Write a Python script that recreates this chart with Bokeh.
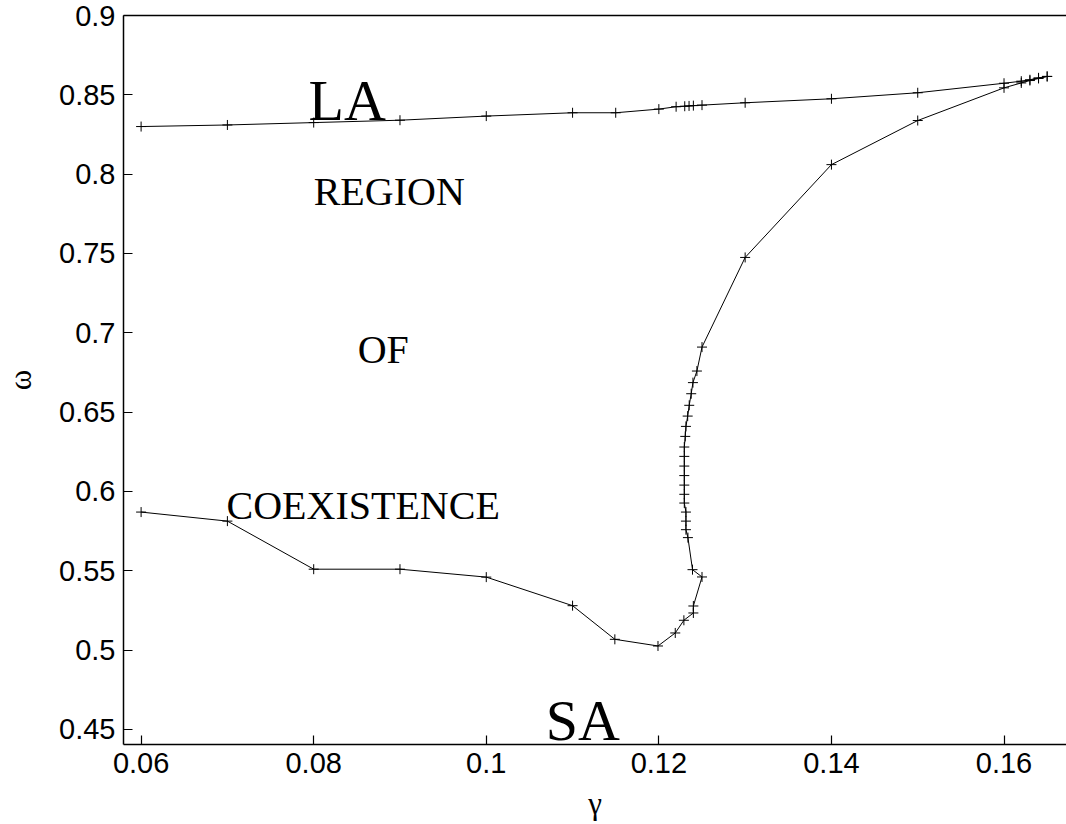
from bokeh.plotting import figure
from bokeh.models import Range1d, LinearAxis, FixedTicker, Label
from bokeh.embed import file_html
from bokeh.resources import INLINE

# Upper branch (LA boundary)
top_gamma = [0.06, 0.07, 0.08, 0.09, 0.10, 0.11, 0.115, 0.12, 0.122, 0.123, 0.1235,
             0.124, 0.125, 0.13, 0.14, 0.15, 0.16, 0.162, 0.163, 0.164, 0.165]
top_omega = [0.830, 0.831, 0.8325, 0.834, 0.8366, 0.8387, 0.8387, 0.841, 0.8425, 0.8428, 0.843,
             0.8432, 0.8435, 0.845, 0.8475, 0.8513, 0.8573, 0.8586, 0.8595, 0.8607, 0.8616]

# Lower branch (SA boundary)
low_gamma = [0.06, 0.07, 0.08, 0.09, 0.10, 0.11, 0.1149, 0.1199, 0.1219, 0.1229, 0.1240,
             0.1240, 0.1250, 0.1239, 0.12337, 0.12314, 0.12314, 0.12314, 0.12295, 0.12295,
             0.12295, 0.12295, 0.12295, 0.12295, 0.12295, 0.12306, 0.12314, 0.12334,
             0.12352, 0.12375, 0.12395, 0.12441, 0.1250, 0.13, 0.14, 0.15, 0.16, 0.162,
             0.163, 0.164, 0.165]
low_omega = [0.587, 0.5813, 0.551, 0.551, 0.546, 0.528, 0.5068, 0.5026, 0.5108, 0.5188, 0.5234,
             0.5278, 0.5461, 0.5507, 0.5709, 0.5759, 0.5813, 0.587, 0.5927, 0.5982,
             0.604, 0.610, 0.616, 0.6221, 0.628, 0.6347, 0.641, 0.6475,
             0.6543, 0.6616, 0.6686, 0.6759, 0.691, 0.7475, 0.806, 0.8338, 0.8544, 0.8575,
             0.859, 0.8603, 0.8616]

x_ticks = [0.06, 0.08, 0.10, 0.12, 0.14, 0.16]
x_tick_labels = ["0.06", "0.08", "0.1", "0.12", "0.14", "0.16"]
y_ticks = [0.45, 0.5, 0.55, 0.6, 0.65, 0.7, 0.75, 0.8, 0.85, 0.9]
y_tick_labels = ["0.45", "0.5", "0.55", "0.6", "0.65", "0.7", "0.75", "0.8", "0.85", "0.9"]

p = figure(width=1066, height=824, output_backend="svg", toolbar_location=None,
           x_range=Range1d(0.05796, 0.16724), y_range=Range1d(0.4405, 0.9),
           min_border_left=119, min_border_right=0, min_border_top=15, min_border_bottom=80)
p.outline_line_color = None
p.grid.visible = False
p.background_fill_color = "white"
p.border_fill_color = "white"

for ax, ticks, labels in ((p.xaxis[0], x_ticks, x_tick_labels), (p.yaxis[0], y_ticks, y_tick_labels)):
    ax.ticker = FixedTicker(ticks=ticks)
    ax.major_label_overrides = {t: l for t, l in zip(ticks, labels)}
    ax.major_tick_in = 9
    ax.major_tick_out = 0
    ax.minor_tick_in = 0
    ax.minor_tick_out = 0
    ax.axis_line_width = 1.5
    ax.axis_line_color = "black"
    ax.major_tick_line_color = "black"
    ax.major_tick_line_width = 1.2
    ax.major_label_text_font = "Liberation Sans"
    ax.major_label_text_font_size = "29px"
    ax.major_label_text_color = "black"
    ax.major_label_standoff = 8
    ax.axis_label_text_font = "Liberation Serif"
    ax.axis_label_text_font_style = "normal"
    ax.axis_label_text_font_size = "31px"
    ax.axis_label_text_color = "black"

p.xaxis.axis_label = "γ"
p.xaxis.axis_label_standoff = 10
p.yaxis.axis_label = "ω"
p.yaxis.axis_label_standoff = 18

top_axis = LinearAxis(axis_line_color="black", axis_line_width=1.5,
                      major_tick_in=0, major_tick_out=0, minor_tick_in=0, minor_tick_out=0,
                      major_label_text_font_size="0px", major_label_standoff=0)
top_axis.major_label_text_color = None
p.add_layout(top_axis, "above")

p.line(top_gamma, top_omega, line_color="black", line_width=1)
p.scatter(top_gamma, top_omega, marker="cross", size=10, line_color="black", line_width=1)
p.line(low_gamma, low_omega, line_color="black", line_width=1)
p.scatter(low_gamma, low_omega, marker="cross", size=10, line_color="black", line_width=1)

def add_text(txt, x, y, size):
    p.add_layout(Label(x=x, y=y, text=txt, text_font="Liberation Serif",
                       text_font_size=size, text_color="black",
                       text_align="left", text_baseline="alphabetic"))

add_text("LA", 0.0794, 0.8464, "58px")
add_text("REGION", 0.0800, 0.7891, "40px")
add_text("OF", 0.0851, 0.6895, "40px")
add_text("COEXISTENCE", 0.0699, 0.5912, "40px")
add_text("SA", 0.1069, 0.4558, "58px")

open("out.html", "w").write(file_html(p, INLINE))
